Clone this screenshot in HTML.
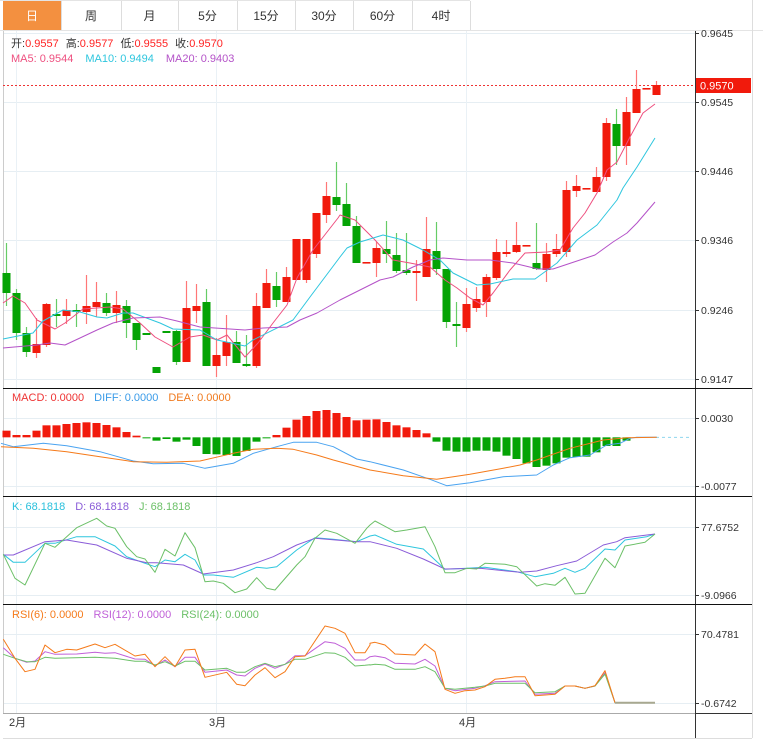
<!DOCTYPE html>
<html><head><meta charset="utf-8">
<style>
html,body{margin:0;padding:0;background:#fff;}
body{width:763px;height:748px;overflow:hidden;font-family:"Liberation Sans","Noto Sans CJK SC",sans-serif;}
svg{display:block;}
</style></head>
<body>
<svg id="s" width="763" height="748" xmlns="http://www.w3.org/2000/svg" font-family="Liberation Sans, Noto Sans CJK SC, sans-serif">
</svg>
<script>
var S=document.getElementById('s');var h='';
function L(x1,y1,x2,y2,c,w,extra){h+='<line x1="'+x1+'" y1="'+y1+'" x2="'+x2+'" y2="'+y2+'" stroke="'+c+'" stroke-width="'+(w||1)+'" '+(extra||'')+'/>';}
function R(x,y,w,hh,c){h+='<rect x="'+x+'" y="'+y+'" width="'+w+'" height="'+hh+'" fill="'+c+'"/>';}
function T(x,y,t,c,sz,anchor){h+='<text x="'+x+'" y="'+y+'" fill="'+c+'" font-size="'+(sz||11)+'"'+(anchor?' text-anchor="'+anchor+'"':'')+'>'+t+'</text>';}
function P(pts,c,w){h+='<polyline fill="none" stroke="'+c+'" stroke-width="'+(w||1)+'" stroke-linejoin="round" points="'+pts.map(function(p){return p[0].toFixed(1)+','+p[1].toFixed(1)}).join(' ')+'"/>';}
function Z(list,ox,oy){return list.map(function(p){return [ox+p[0]/3,oy+p[1]/3];});}
// tabs
var tabs=['日','周','月','5分','15分','30分','60分','4时'];var tx=[3,61,121,178,237,295,353,412,470];
R(0,0,763,30,'#fff');
for(var i=0;i<8;i++){var x0=tx[i],x1=tx[i+1];
 if(i==0)R(x0,1,x1-x0,29,'#f39040');
 L(x1+0.5,1,x1+0.5,30,'#ddd');
 T((x0+x1)/2,20,tabs[i],i==0?'#fff':'#333',12,'middle');}
L(0,30.5,763,30.5,'#e4e4e4');L(0,0.5,470,0.5,'#e4e4e4');
// grid main
[33,102,171,240,310,379].forEach(function(y){L(3,y+.5,695,y+.5,'#e6eef3');});
[16,216,466].forEach(function(x){L(x+.5,31,x+.5,713,'#eaf1f6');});
[418,486].forEach(function(y){L(3,y+.5,695,y+.5,'#e6eef3');});
[527,595].forEach(function(y){L(3,y+.5,695,y+.5,'#e6eef3');});
[634,703].forEach(function(y){L(3,y+.5,695,y+.5,'#e6eef3');});
L(3.5,31,3.5,713,'#ccc');
// axis
L(695.5,31,695.5,738,'#333');L(752.5,0,752.5,738,'#ddd');
L(3,713.5,695,713.5,'#aaa');L(695,713.5,752,713.5,'#333');
L(3,738.5,752,738.5,'#ddd');
[388,496,604].forEach(function(y){L(3,y+.5,752,y+.5,'#111');});
function ax(y,t){L(695,y+.5,699,y+.5,'#333');T(701,y+4,t,'#333',10.5);}
ax(33,'0.9645');ax(102,'0.9545');ax(171,'0.9446');ax(240,'0.9346');ax(310,'0.9246');ax(379,'0.9147');
ax(418,'0.0030');ax(486,'-0.0077');ax(527,'77.6752');ax(595,'-9.0966');ax(634,'70.4781');ax(703,'-0.6742');
// months
T(9,726,'2月','#333',11);T(209,726,'3月','#333',11);T(459,726,'4月','#333',11);
// price line
L(3,85.5,695,85.5,'#e33','1','stroke-dasharray="2,2"');
R(696,78,55,15,'#f11a0c');T(700,89.5,'0.9570','#fff',11);
// candles
var C=[['g',273,293,243,306],['g',293,333,289,340],['g',333,352,327,357],['r',344,353,318,358],['r',304,345,303,347],['g',314,316,299,327],['r',310,316,299,324],['g',310,312,304,327],['r',306,312,275,324],['r',302,307,282,317],['g',303,313,293,316],['r',305,313,291,323],['g',306,323,300,338],['g',323,340,323,350],['g',333,335,333,335],['g',367,373,367,373],['g',331,333,331,333],['g',331,362,330,365],['r',308,362,281,362],['r',306,311,284,323],['g',302,366,289,366],['r',355,366,338,377],['r',342,356,315,366],['g',342,363,331,363],['g',364,366,335,367],['r',306,366,293,368],['r',283,308,269,308],['g',286,300,272,307],['r',277,302,267,302],['r',239,280,239,280],['r',239,280,239,283],['r',213,254,213,258],['r',196,215,182,223],['g',197,205,162,211],['g',204,226,183,226],['g',226,263,216,263],['r',262,263,262,263],['r',248,263,242,277],['g',249,254,221,263],['g',255,271,233,273],['g',270,273,233,275],['r',271,273,260,301],['r',249,277,217,277],['g',251,269,222,275],['g',269,322,269,328],['g',324,326,302,347],['r',304,328,288,332],['r',299,308,287,312],['r',277,302,274,317],['r',252,278,239,280],['r',252,254,240,257],['r',245,252,222,253],['r',245,246,245,246],['g',263,269,223,270],['r',254,270,243,282],['r',249,254,234,257],['r',190,252,181,257],['r',186,191,175,197],['r',188,189,188,189],['r',177,192,167,192],['r',123,177,118,181],['g',124,146,109,165],['r',112,146,97,165],['r',89,113,70,113],['r',88,89,88,89],['r',85,95,81,95]];
C.forEach(function(c,i){var cx=6.5+10*i;var col=c[0]=='r'?'#f11a0c':'#05a305';var wc=c[0]=='r'?'#f77':'#6c6';
 if(c[4]>c[3])L(cx,c[3],cx,c[4],wc,1.2);
 var bh=Math.max(1.6,c[2]-c[1]);R(cx-4,c[1],8,bh,col);});
// MAs
P([[3,303],[13,296],[25,303],[37,320],[55,329],[65,323],[83,309],[110,307],[123,309],[140,323],[155,337],[173,347],[190,337],[203,335],[217,340],[227,335],[245,357],[258,343],[273,323],[287,305],[297,278],[313,250],[338,218],[340,215],[355,220],[375,240],[393,260],[410,263],[430,267],[445,280],[457,288],[470,298],[483,305],[493,293],[510,270],[525,253],[547,252],[560,250],[573,228],[585,213],[597,193],[607,170],[617,162],[630,137],[643,113],[655,104]],'#ee4f7f');
P([[3,339],[33,333],[43,321],[63,310],[80,312],[97,317],[107,318],[123,313],[133,313],[160,323],[173,329],[200,330],[217,340],[245,346],[253,340],[293,320],[310,297],[340,257],[347,248],[360,242],[383,235],[403,240],[423,250],[440,260],[453,273],[477,285],[490,284],[513,279],[535,279],[557,263],[577,240],[597,225],[617,200],[623,188],[637,167],[655,138]],'#2ec6de');
P([[3,348],[37,345],[50,343],[65,345],[80,338],[97,330],[113,323],[133,318],[160,317],[177,321],[200,327],[245,330],[263,328],[287,327],[300,320],[317,313],[340,300],[360,290],[380,280],[393,277],[413,267],[430,260],[443,258],[467,260],[490,260],[513,263],[538,269],[553,269],[580,260],[595,255],[613,242],[627,233],[637,223],[655,202]],'#b452c8');
// header text
h+='<text y="47" font-size="11"><tspan x="11" fill="#333">开:</tspan><tspan fill="#f22">0.9557</tspan><tspan dx="7" fill="#333">高:</tspan><tspan fill="#f22">0.9577</tspan><tspan dx="7" fill="#333">低:</tspan><tspan fill="#f22">0.9555</tspan><tspan dx="7" fill="#333">收:</tspan><tspan fill="#f22">0.9570</tspan></text>';
h+='<text y="62" font-size="11"><tspan x="11" fill="#ee4f7f">MA5: 0.9544</tspan><tspan dx="12" fill="#2ec6de">MA10: 0.9494</tspan><tspan dx="12" fill="#b452c8">MA20: 0.9403</tspan></text>';
// MACD
var zero=385+157/3;
var reds1=[137,150,150,137,121,121,117,114,112,114,120,127,141,152];
reds1.forEach(function(v,i){var y=385+v/3;R(2.5+10*i,y,8,zero-y,'#f11a0c');});
R(2.5+140,zero,8,1,'#05a305');
var g1=[167,162,170,164,183,207,208,210,213,198,170,160];
g1.forEach(function(v,k){var i=15+k;R(2.5+10*i,zero,8,(385+v/3)-zero,'#05a305');});
var r2=[150,128,104,93,78,75,84,96,106,104,103,111,121,127,135,145];
r2.forEach(function(v,k){var i=27+k;var y=385+v/3;R(2.5+10*i,y,8,zero-y,'#f11a0c');});
var g2=[170,197,200,200,197,197,200,212,222,235,246,242,235,218,216,215,202,183,183,167];
g2.forEach(function(v,k){var i=43+k;R(2.5+10*i,zero,8,(385+v/3)-zero,'#05a305');});
L(656,zero,692,zero,'#8fd6ee',1,'stroke-dasharray="3,3"');
P(Z([[3,175],[40,185],[130,175],[200,182],[300,200],[400,228],[460,236],[550,235],[615,250],[700,235],[760,205],[830,185],[880,172],[950,172],[1000,185],[1070,222],[1110,230]],0,385).concat(Z([[0,230],[100,255],[180,283],[230,302],[300,293],[400,275],[500,270],[550,240],[600,218],[660,210],[710,180],[750,175],[780,160],[800,157],[860,157]],370,385)),'#4aa3f0');
P(Z([[3,185],[100,190],[200,200],[300,215],[400,230],[500,232],[600,228],[700,205],[760,193],[830,190],[880,193],[950,210],[1000,225],[1110,255]],0,385).concat(Z([[0,255],[100,272],[200,283],[300,268],[400,250],[450,240],[500,225],[600,190],[700,165],[770,158],[860,157]],370,385)),'#f57a1a');
h+='<text y="401" font-size="11"><tspan x="12" fill="#ee3333">MACD: 0.0000</tspan><tspan dx="10" fill="#3a9be8">DIFF: 0.0000</tspan><tspan dx="10" fill="#f07a1e">DEA: 0.0000</tspan></text>';
// KDJ
P(Z([[10,178],[40,202],[75,202],[135,145],[165,145],[230,125],[285,125],[345,153],[380,185],[435,205],[465,215],[495,195],[525,200],[555,178],[585,195],[610,240],[640,240],[700,247],[770,217],[800,220],[830,215],[890,165],[945,128],[1000,133],[1070,140],[1110,123]],0,495).concat(Z([[0,123],[15,120],[80,148],[160,162],[225,223],[290,220],[345,217],[440,230],[495,245],[550,235],[585,220],[615,232],[645,220],[705,162],[735,165],[765,135],[830,125],[855,117]],370,495)),'#2ec6de');
P(Z([[10,180],[40,180],[135,140],[200,135],[290,150],[380,190],[440,203],[470,203],[550,210],[610,237],[700,225],[770,203],[820,185],[890,150],[945,130],[1070,140],[1110,140]],0,495).concat(Z([[0,140],[80,160],[160,192],[225,222],[330,220],[450,232],[500,228],[560,212],[620,198],[700,150],[740,140],[765,128],[855,117]],370,495)),'#8a5cd8');
P(Z([[10,178],[45,250],[75,270],[135,145],[165,157],[230,98],[290,70],[320,93],[345,100],[380,155],[410,185],[435,192],[465,232],[495,163],[525,183],[555,113],[585,158],[615,260],[640,258],[670,265],[705,293],[740,282],[770,248],[800,280],[825,285],[890,210],[915,185],[945,130],[975,105],[1010,115],[1065,145],[1100,100],[1110,90]],0,495).concat(Z([[0,90],[15,78],[75,110],[110,105],[165,95],[195,155],[225,233],[255,233],[290,220],[320,222],[345,205],[405,208],[440,215],[500,273],[525,266],[555,271],[585,247],[615,297],[645,295],[705,190],[735,218],[765,153],[825,142],[855,117]],370,495)),'#6cc068');
h+='<text y="510" font-size="11"><tspan x="12" fill="#2ac0dc">K: 68.1818</tspan><tspan dx="10" fill="#8a5cd8">D: 68.1818</tspan><tspan dx="10" fill="#6cc068">J: 68.1818</tspan></text>';
// RSI
P(Z([[10,143],[45,175],[80,187],[105,183],[135,155],[165,163],[230,162],[285,157],[315,160],[345,158],[405,177],[435,178],[465,197],[495,180],[525,200],[555,172],[585,172],[615,217],[680,210],[710,225],[735,228],[765,205],[795,192],[825,205],[855,193],[885,167],[915,167],[975,125],[1005,130],[1035,145],[1065,180],[1095,180],[1110,170]],0,600).concat(Z([[0,170],[15,168],[45,173],[75,190],[135,192],[165,178],[195,198],[225,265],[255,272],[315,265],[345,257],[375,245],[465,243],[495,283],[555,280],[585,258],[615,258],[645,265],[675,258],[705,218],[735,308],[855,308]],370,600)),'#c060d8');
P(Z([[10,163],[45,175],[80,185],[105,185],[135,172],[165,175],[285,172],[345,175],[405,184],[435,184],[465,195],[495,185],[525,198],[555,184],[585,184],[615,210],[680,205],[710,217],[735,217],[765,200],[795,190],[825,200],[855,193],[885,178],[915,178],[975,158],[1005,160],[1035,172],[1065,198],[1095,196],[1110,194]],0,600).concat(Z([[0,195],[15,193],[45,195],[75,208],[135,208],[165,200],[195,215],[225,265],[255,268],[315,262],[345,258],[375,250],[465,250],[495,278],[555,275],[585,258],[615,258],[645,265],[675,258],[705,222],[735,308],[855,308]],370,600)),'#6cc068');
P(Z([[10,118],[45,175],[75,215],[105,208],[135,135],[165,158],[200,148],[230,150],[285,132],[315,143],[345,133],[405,168],[435,163],[465,200],[495,170],[525,200],[555,150],[585,148],[615,232],[680,217],[710,253],[735,257],[765,225],[795,203],[825,233],[855,215],[885,170],[915,168],[975,78],[1005,85],[1035,100],[1065,158],[1095,158],[1110,135]],0,600).concat(Z([[0,130],[15,127],[45,135],[75,162],[135,165],[165,132],[195,155],[225,268],[255,280],[285,272],[315,270],[345,260],[375,238],[405,235],[435,230],[465,230],[495,287],[555,283],[585,258],[615,258],[645,265],[675,257],[705,212],[735,308]],370,600)),'#f57a1a');
L(615,702.7,655,702.7,'#a8a890',2);
h+='<text y="618" font-size="11"><tspan x="12" fill="#f57a1a">RSI(6): 0.0000</tspan><tspan dx="10" fill="#c060d8">RSI(12): 0.0000</tspan><tspan dx="10" fill="#6cc068">RSI(24): 0.0000</tspan></text>';
S.innerHTML=h;
</script>
</body></html>
